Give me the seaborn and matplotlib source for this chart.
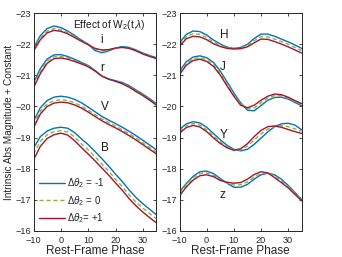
import numpy as np
import pandas as pd
import matplotlib
matplotlib.use('Agg')
import matplotlib.pyplot as plt
import seaborn as sns

# rest-frame phase grid (days)
phase = [-10, -7.5, -5, -2.5, 0, 2.5, 5, 7.5, 10, 12.5, 15, 17.5, 20, 22.5, 25, 27.5, 30, 32.5, 35]

# left panel bands: magnitudes for d_theta2 = -1, 0, +1
i_m1 = [-21.88, -22.28, -22.51, -22.59, -22.54, -22.43, -22.29, -22.14, -22.00, -21.80, -21.73, -21.79, -21.88, -21.93, -21.90, -21.82, -21.72, -21.64, -21.57]
i_0 = [-21.83, -22.21, -22.43, -22.51, -22.47, -22.38, -22.25, -22.12, -22.00, -21.85, -21.79, -21.82, -21.88, -21.91, -21.88, -21.80, -21.70, -21.62, -21.55]
i_p1 = [-21.78, -22.15, -22.37, -22.45, -22.42, -22.34, -22.22, -22.10, -21.99, -21.87, -21.82, -21.83, -21.88, -21.90, -21.87, -21.79, -21.69, -21.61, -21.54]

r_m1 = [-20.76, -21.22, -21.53, -21.66, -21.67, -21.61, -21.52, -21.42, -21.32, -21.16, -20.98, -20.88, -20.83, -20.77, -20.67, -20.53, -20.40, -20.25, -20.09]
r_0 = [-20.68, -21.14, -21.46, -21.60, -21.61, -21.56, -21.48, -21.39, -21.30, -21.15, -20.98, -20.88, -20.82, -20.75, -20.64, -20.50, -20.37, -20.22, -20.06]
r_p1 = [-20.60, -21.06, -21.39, -21.54, -21.56, -21.52, -21.45, -21.37, -21.28, -21.14, -20.98, -20.88, -20.81, -20.73, -20.62, -20.48, -20.35, -20.20, -20.04]

V_m1 = [-19.52, -19.96, -20.19, -20.30, -20.33, -20.30, -20.23, -20.12, -19.98, -19.83, -19.68, -19.56, -19.45, -19.33, -19.20, -19.06, -18.91, -18.76, -18.60]
V_0 = [-19.41, -19.85, -20.08, -20.19, -20.22, -20.19, -20.12, -20.01, -19.88, -19.74, -19.60, -19.48, -19.37, -19.25, -19.12, -18.98, -18.83, -18.68, -18.53]
V_p1 = [-19.31, -19.76, -20.00, -20.11, -20.14, -20.12, -20.05, -19.95, -19.82, -19.68, -19.54, -19.42, -19.31, -19.19, -19.06, -18.92, -18.77, -18.62, -18.47]

B_m1 = [-18.66, -19.03, -19.21, -19.30, -19.33, -19.30, -19.16, -18.96, -18.77, -18.55, -18.32, -18.08, -17.82, -17.58, -17.31, -17.07, -16.87, -16.69, -16.51]
B_0 = [-18.47, -18.88, -19.09, -19.19, -19.22, -19.18, -19.02, -18.80, -18.60, -18.38, -18.15, -17.92, -17.66, -17.42, -17.15, -16.92, -16.73, -16.55, -16.38]
B_p1 = [-18.28, -18.72, -18.97, -19.09, -19.14, -19.08, -18.90, -18.68, -18.47, -18.25, -18.02, -17.79, -17.54, -17.30, -17.03, -16.80, -16.60, -16.42, -16.25]

# right panel bands
H_m1 = [-22.05, -22.32, -22.43, -22.41, -22.30, -22.14, -22.01, -21.91, -21.87, -21.90, -22.00, -22.19, -22.33, -22.33, -22.26, -22.17, -22.08, -21.98, -21.87]
H_0 = [-21.99, -22.25, -22.34, -22.32, -22.22, -22.08, -21.97, -21.89, -21.86, -21.88, -21.96, -22.12, -22.25, -22.24, -22.17, -22.09, -22.00, -21.90, -21.80]
H_p1 = [-21.94, -22.18, -22.26, -22.24, -22.15, -22.02, -21.93, -21.87, -21.85, -21.86, -21.92, -22.05, -22.17, -22.16, -22.09, -22.01, -21.92, -21.82, -21.72]

J_m1 = [-21.14, -21.44, -21.59, -21.63, -21.57, -21.42, -21.14, -20.79, -20.44, -20.12, -19.88, -19.86, -20.03, -20.20, -20.29, -20.30, -20.24, -20.13, -20.02]
J_0 = [-21.09, -21.38, -21.53, -21.57, -21.50, -21.35, -21.07, -20.72, -20.38, -20.08, -19.93, -19.95, -20.12, -20.27, -20.35, -20.34, -20.27, -20.16, -20.06]
J_p1 = [-21.03, -21.33, -21.48, -21.52, -21.45, -21.29, -21.01, -20.66, -20.33, -20.04, -19.96, -20.04, -20.20, -20.33, -20.40, -20.38, -20.30, -20.19, -20.09]

Y_m1 = [-19.26, -19.44, -19.51, -19.47, -19.33, -19.13, -18.93, -18.75, -18.62, -18.57, -18.62, -18.78, -18.98, -19.18, -19.35, -19.44, -19.46, -19.40, -19.25]
Y_0 = [-19.20, -19.38, -19.45, -19.40, -19.25, -19.05, -18.86, -18.70, -18.60, -18.60, -18.72, -18.92, -19.12, -19.27, -19.36, -19.38, -19.35, -19.28, -19.20]
Y_p1 = [-19.14, -19.32, -19.39, -19.34, -19.19, -18.99, -18.81, -18.67, -18.59, -18.64, -18.80, -19.03, -19.23, -19.35, -19.37, -19.33, -19.26, -19.19, -19.13]

z_m1 = [-17.25, -17.52, -17.75, -17.90, -17.92, -17.84, -17.68, -17.53, -17.40, -17.40, -17.49, -17.66, -17.80, -17.85, -17.80, -17.66, -17.46, -17.23, -17.00]
z_0 = [-17.20, -17.48, -17.70, -17.84, -17.86, -17.78, -17.64, -17.54, -17.47, -17.48, -17.57, -17.73, -17.84, -17.85, -17.76, -17.60, -17.42, -17.20, -16.98]
z_p1 = [-17.12, -17.41, -17.63, -17.77, -17.80, -17.74, -17.62, -17.56, -17.53, -17.55, -17.66, -17.81, -17.90, -17.86, -17.71, -17.55, -17.38, -17.17, -16.96]

left_bands = {'i': (i_m1, i_0, i_p1), 'r': (r_m1, r_0, r_p1),
              'V': (V_m1, V_0, V_p1), 'B': (B_m1, B_0, B_p1)}
right_bands = {'H': (H_m1, H_0, H_p1), 'J': (J_m1, J_0, J_p1),
               'Y': (Y_m1, Y_0, Y_p1), 'z': (z_m1, z_0, z_p1)}

# label positions (phase, mag)
left_labels = {'i': (15.0, -22.14), 'r': (15.0, -21.24), 'V': (16.1, -19.98), 'B': (16.1, -18.65)}
right_labels = {'H': (6.4, -22.30), 'J': (5.9, -21.28), 'Y': (6.4, -19.07), 'z': (5.9, -17.14)}

legend_names = [r'$\Delta\theta_2$ = -1', r'$\Delta\theta_2$ = 0', r'$\Delta\theta_2$= +1']
colors = ['#0072BD', '#8DB33A', '#A2142F']

sns.set_style('ticks')
plt.rcParams['font.family'] = ['Liberation Sans', 'DejaVu Sans']
plt.rcParams['mathtext.fontset'] = 'custom'
plt.rcParams['mathtext.rm'] = 'Liberation Sans'
plt.rcParams['mathtext.it'] = 'Liberation Sans:italic'

fig = plt.figure(figsize=(3.42, 2.57), dpi=100)
ax_l = fig.add_axes([0.098, 0.1023, 0.3596, 0.846])
ax_r = fig.add_axes([0.5249, 0.1023, 0.3573, 0.846])


def draw_panel(ax, bands, labels):
    for band, series in bands.items():
        for k, vals in enumerate(series):
            df = pd.DataFrame({'phase': phase, 'mag': vals})
            kw = dict(dashes=(3, 2)) if k == 1 else {}
            sns.lineplot(data=df, x='phase', y='mag', ax=ax, color=colors[k],
                         lw=1.0, label=legend_names[k], legend=False, **kw)
        x, y = labels[band]
        ax.text(x, y, band, fontsize=8.5, ha='center', va='center', color='#1a1a1a')
    ax.set_xlim(-10, 35)
    ax.set_ylim(-16, -23)
    ax.set_xticks([-10, 0, 10, 20, 30])
    ax.set_yticks(range(-23, -15))
    ax.tick_params(direction='in', length=2.5, width=0.6, labelsize=6.6,
                   top=True, right=True, colors='#262626')
    ax.tick_params(axis='x', pad=4)
    ax.tick_params(axis='y', pad=1.5)
    for s in ax.spines.values():
        s.set_linewidth(0.7)
        s.set_color('#262626')
    ax.set_xlabel('Rest-Frame Phase', fontsize=8.5, labelpad=0, color='#262626')
    ax.set_ylabel('')


draw_panel(ax_l, left_bands, left_labels)
draw_panel(ax_r, right_bands, right_labels)

ax_l.set_ylabel('Intrinsic Abs Magnitude + Constant', fontsize=7.2, labelpad=1, color='#262626')
ax_l.text(17.6, -22.62, r'Effect of W$_2$(t,$\lambda$)', fontsize=7.3, ha='center', va='center',
          color='#1a1a1a')

handles, labs = ax_l.get_legend_handles_labels()
ax_l.legend(handles[:3], labs[:3], loc='lower left', frameon=False, fontsize=7,
            handlelength=2.6, handletextpad=0.2, labelspacing=0.35,
            borderaxespad=0.2, bbox_to_anchor=(0.0, 0.0))

fig.savefig('out.png', dpi=100)
